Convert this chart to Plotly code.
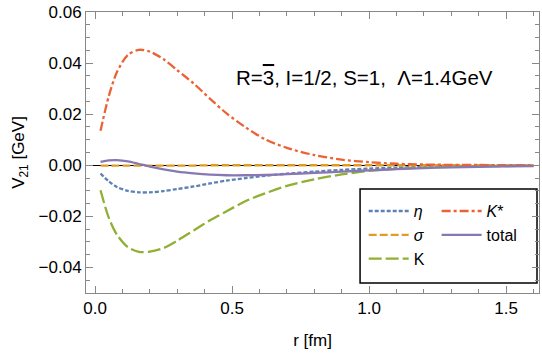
import plotly.graph_objects as go

r = [0.02, 0.05, 0.08, 0.12, 0.16, 0.2, 0.25, 0.3, 0.36, 0.42, 0.48, 0.55,
     0.62, 0.7, 0.8, 0.9, 1.0, 1.1, 1.2, 1.3, 1.4, 1.5, 1.6]

v_eta = [-0.0032, -0.0063, -0.0085, -0.0100, -0.0106, -0.0106, -0.0101, -0.0093,
         -0.0083, -0.0071, -0.0060, -0.0050, -0.0041, -0.0033, -0.0025, -0.0018,
         -0.0013, -0.0009, -0.0006, -0.0004, -0.0003, -0.0002, -0.0001]
v_sigma = [-0.0001, -0.0001, -0.0001, -0.0001, -0.0001, -0.0001, -0.0001, -0.0001,
           -0.0001, 0.0, 0.0, 0.0, 0.0, 0.0, 0.0, 0.0, 0.0, 0.0, 0.0, 0.0, 0.0, 0.0, 0.0]
v_K = [-0.0098, -0.0205, -0.0272, -0.0321, -0.0339, -0.0338, -0.0324, -0.0295,
       -0.0255, -0.0215, -0.0180, -0.0140, -0.0110, -0.0081, -0.0055, -0.0036,
       -0.0022, -0.0014, -0.0009, -0.0006, -0.0004, -0.0003, -0.0002]
v_Kstar = [0.0135, 0.0270, 0.0365, 0.0432, 0.0452, 0.0445, 0.0415, 0.0372,
           0.0320, 0.0260, 0.0203, 0.0148, 0.0102, 0.0068, 0.0040, 0.0022,
           0.0012, 0.0006, 0.0003, 0.00015, 0.0001, 0.00005, 0.00002]
v_total = [0.0013, 0.0019, 0.0020, 0.0015, 0.0005, -0.0005, -0.0016, -0.0025,
           -0.0032, -0.0037, -0.0039, -0.0039, -0.0038, -0.0035, -0.0030, -0.0025,
           -0.0020, -0.0015, -0.0011, -0.0008, -0.0006, -0.0004, -0.0003]

x_ticks = [0.0, 0.5, 1.0, 1.5]
y_ticks = [-0.04, -0.02, 0.0, 0.02, 0.04, 0.06]

FONT = "Liberation Sans, Arial, sans-serif"
FS = 17

series = [
    ("<i>η</i>", v_eta, "#5E81B5", "4px,2px", "legend"),
    ("<i>σ</i>", v_sigma, "#E19C24", "8px,3px", "legend"),
    ("K", v_K, "#8FB032", "13px,4px", "legend"),
    ("<i>K</i>*", v_Kstar, "#EB6235", "9px,3px,3px,3px", "legend2"),
    ("total", v_total, "#8778B3", "solid", "legend2"),
]

fig = go.Figure()
for i, (name, vals, col, dash, leg) in enumerate(series):
    fig.add_trace(go.Scatter(
        x=r, y=vals, mode="lines", name=name,
        line=dict(color=col, width=2.3, dash=dash, shape="spline", smoothing=0.8),
        legend=leg, legendgroup=f"g{i}",
    ))

axis_common = dict(
    showgrid=False, showline=True, linecolor="#888888", linewidth=1,
    mirror="ticks", ticks="inside", ticklen=7, tickwidth=1, tickcolor="#888888",
    tickfont=dict(family=FONT, size=FS, color="black"),
)

fig.update_xaxes(
    range=[-0.033, 1.62], tickvals=x_ticks, tickformat=".1f", zeroline=False,
    minor=dict(dtick=0.1, tick0=0, ticks="inside", ticklen=4, tickcolor="#888888"),
    title=dict(text="r [fm]", font=dict(family=FONT, size=FS, color="black"), standoff=16),
    **axis_common,
)
fig.update_yaxes(
    range=[-0.05, 0.06], tickvals=y_ticks, tickformat=".2f",
    zeroline=True, zerolinecolor="black", zerolinewidth=1,
    minor=dict(dtick=0.005, tick0=0, ticks="inside", ticklen=4, tickcolor="#888888"),
    title=dict(text="V<sub>21</sub> [GeV]", font=dict(family=FONT, size=FS, color="black"), standoff=9),
    **axis_common,
)

leg_common = dict(
    font=dict(family=FONT, size=16, color="black"),
    bgcolor="rgba(0,0,0,0)", borderwidth=0,
    traceorder="grouped", tracegroupgap=0, itemwidth=40,
    xanchor="left", yanchor="top", orientation="v",
)

fig.update_layout(
    width=542, height=359,
    margin=dict(l=86, r=3, t=12, b=66),
    paper_bgcolor="white", plot_bgcolor="white",
    showlegend=True,
    legend=dict(x=0.613, y=0.352, **leg_common),
    legend2=dict(x=0.774, y=0.352, **leg_common),
    shapes=[dict(type="rect", xref="paper", yref="paper",
                 x0=0.605, x1=0.9956, y0=0.0356, y1=0.370,
                 line=dict(color="black", width=1.5), fillcolor="white", layer="below")],
    annotations=[dict(text="R=<span style='text-decoration:overline'>3</span>, I=1/2, S=1,  Λ=1.4GeV",
                      xref="paper", yref="paper",
                      x=0.615, y=0.815, showarrow=False,
                      font=dict(family=FONT, size=20.5, color="black"))],
)

fig.write_html("out.html")
